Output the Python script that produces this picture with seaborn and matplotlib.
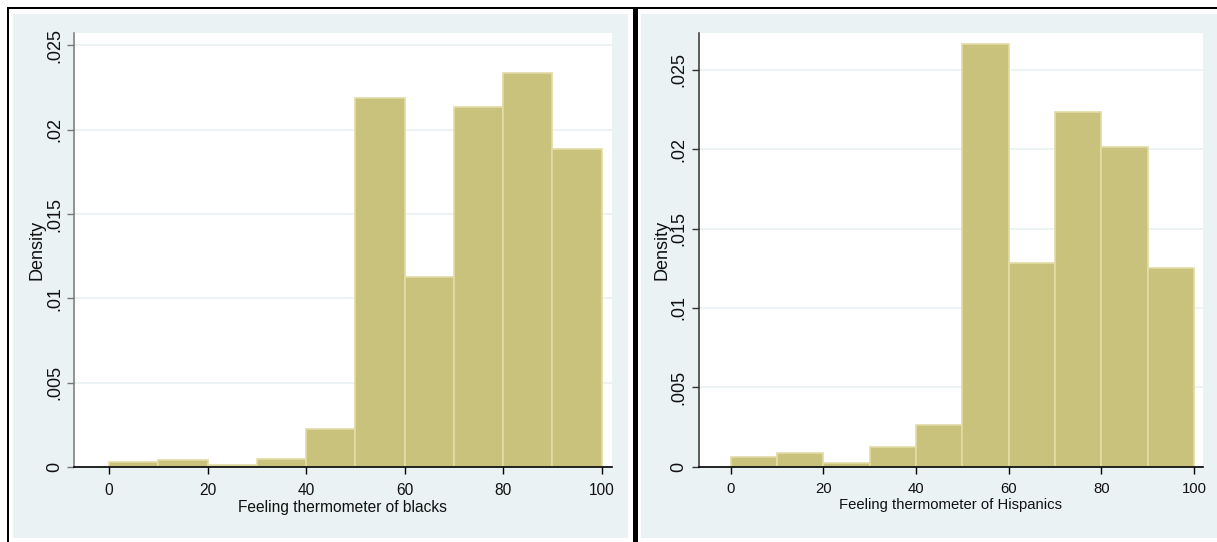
import matplotlib
matplotlib.use("Agg")
import matplotlib.pyplot as plt
import seaborn as sns
import numpy as np
import pandas as pd
from matplotlib.patches import Rectangle

# ---------------- data ----------------
bin_edges = [0, 10, 20, 30, 40, 50, 60, 70, 80, 90, 100]
blacks_density = [0.00033, 0.00045, 0.00014, 0.00051, 0.00225,
                  0.02190, 0.01127, 0.02133, 0.02338, 0.01884]
hispanics_density = [0.00061, 0.00088, 0.00023, 0.00124, 0.00263,
                     0.02662, 0.01281, 0.02235, 0.02014, 0.01253]
x_ticks = [0, 20, 40, 60, 80, 100]
y_ticks = [0, 0.005, 0.01, 0.015, 0.02, 0.025]
y_tick_labels = ["0", ".005", ".01", ".015", ".02", ".025"]
x_titles = ["Feeling thermometer of blacks", "Feeling thermometer of Hispanics"]
y_title = "Density"

# ---------------- style ----------------
sns.set_style("white")
plt.rcParams["font.family"] = ["Liberation Sans", "DejaVu Sans"]

W, H = 1217, 542
fig = plt.figure(figsize=(W / 100, H / 100), dpi=100, facecolor="white")

def fx(px):
    return px / W

def fy(py):
    return 1 - py / H

def frect(x0, y0, x1, y1, color):
    fig.patches.append(Rectangle((fx(x0), fy(y1)), fx(x1) - fx(x0), fy(y0) - fy(y1),
                                 transform=fig.transFigure, facecolor=color,
                                 edgecolor="none", zorder=-5))

bg = "#EAF2F3"
# panel backgrounds
frect(13.3, 14, 628.3, 538, bg)
frect(641, 14, 1217, 538, bg)
# black frame lines
frect(6.5, 6.5, 1217, 9, "black")
frect(6.5, 6.5, 9, 542, "black")
frect(632.7, 6.5, 637.7, 542, "black")

bar_color = "#C9C27C"
edge_color = "#E2DCA6"

panels = [
    dict(dens=blacks_density, rect=(74, 33.3, 611.7, 467.3), xlim=(-7.10, 102.03),
         ytop=0.02571, spine="#777777", title=x_titles[0], xfs=11.2),
    dict(dens=hispanics_density, rect=(698.5, 33.3, 1202.7, 466.5), xlim=(-6.95, 101.88),
         ytop=0.02731, spine="#333333", title=x_titles[1], xfs=10.7),
]

for p in panels:
    x0, y0, x1, y1 = p["rect"]
    ax = fig.add_axes([fx(x0), fy(y1), fx(x1) - fx(x0), fy(y0) - fy(y1)])
    ax.set_zorder(1)
    ax.set_facecolor("white")
    mids = [(bin_edges[i] + bin_edges[i + 1]) / 2 for i in range(len(bin_edges) - 1)]
    df = pd.DataFrame({"x": mids, "w": p["dens"]})
    sns.histplot(data=df, x="x", weights="w", bins=bin_edges, stat="count",
                 color=bar_color, edgecolor=edge_color, linewidth=1.2, alpha=1,
                 ax=ax, zorder=2)
    ax.set_xlim(*p["xlim"])
    ax.set_ylim(0, p["ytop"])
    ax.set_xticks(x_ticks)
    ax.set_xticklabels([str(t) for t in x_ticks])
    ax.set_yticks(y_ticks)
    ax.set_yticklabels(y_tick_labels, rotation=90, va="center")
    ax.grid(axis="y", color=bg, linewidth=1.3, zorder=0)
    ax.grid(axis="x", visible=False)
    ax.set_axisbelow(True)
    for s in ["top", "right"]:
        ax.spines[s].set_visible(False)
    ax.spines["left"].set_color(p["spine"])
    ax.spines["left"].set_linewidth(1.1)
    ax.spines["bottom"].set_color("black")
    ax.spines["bottom"].set_linewidth(1.2)
    ax.tick_params(axis="x", direction="out", length=5, width=1, color="black",
                   labelsize=p["xfs"], pad=6.5, labelcolor="#111111", bottom=True)
    ax.tick_params(axis="y", direction="out", length=5, width=1, color=p["spine"],
                   labelsize=13, pad=3, labelcolor="#111111", left=True)
    ax.set_xlabel(p["title"], fontsize=p["xfs"], labelpad=1.3, color="#111111")
    ax.set_ylabel(y_title, fontsize=13, labelpad=0, color="#111111")

fig.savefig("out.png", dpi=100, facecolor="white")
